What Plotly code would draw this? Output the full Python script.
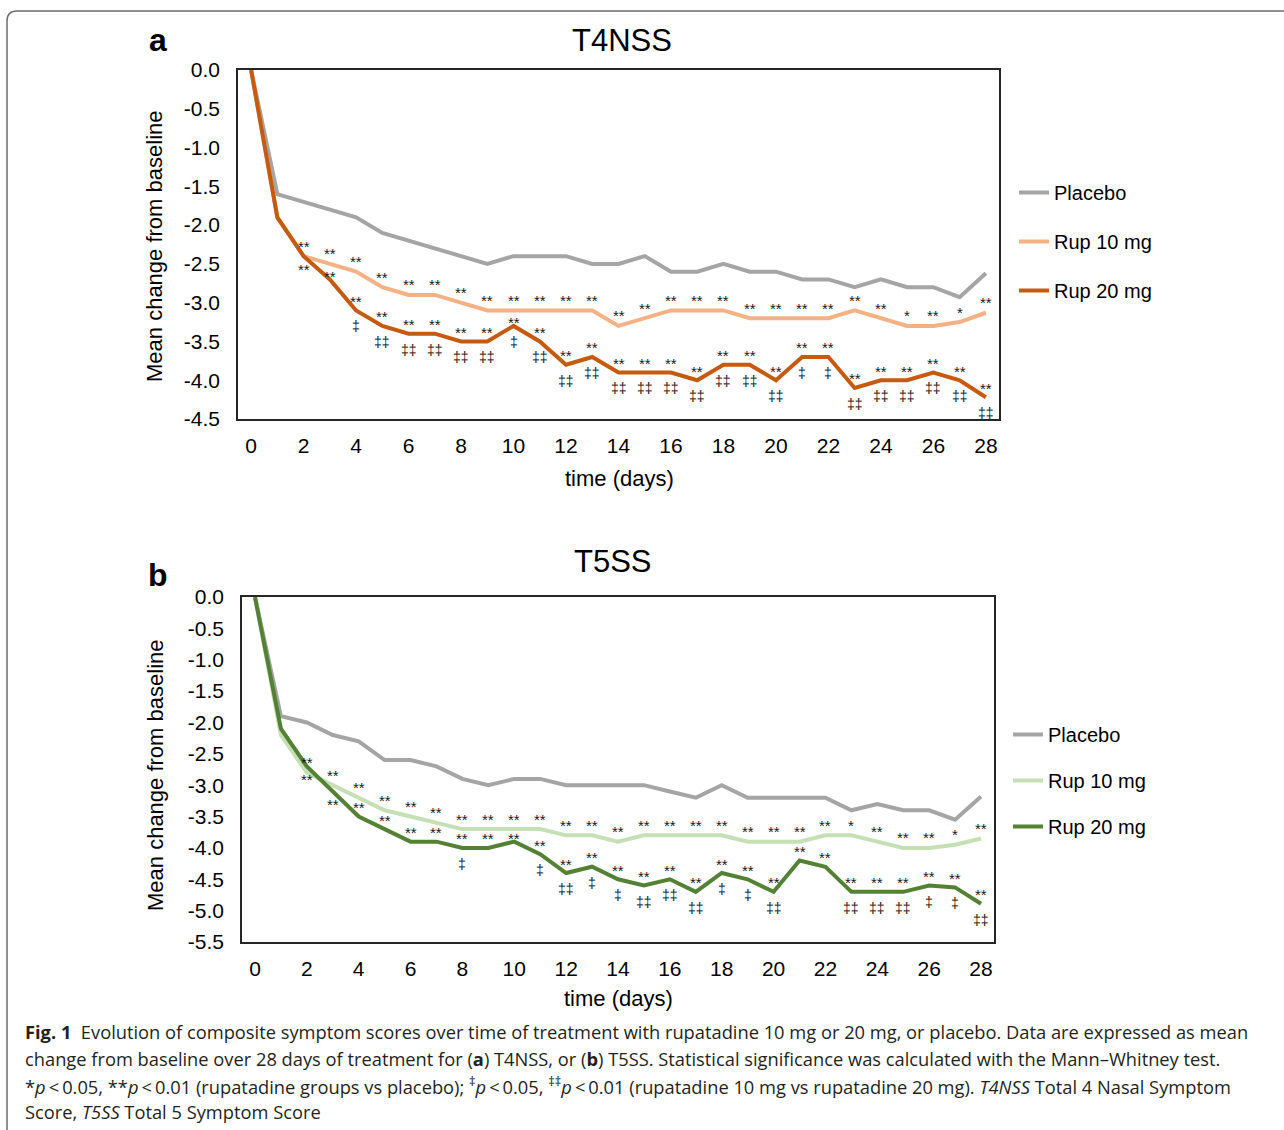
import plotly.graph_objects as go

days = list(range(29))
series_names = ["Placebo", "Rup 10 mg", "Rup 20 mg"]

# Panel a: T4NSS
a_placebo = [0, -1.6, -1.7, -1.8, -1.9, -2.1, -2.2, -2.3, -2.4, -2.5, -2.4, -2.4, -2.4, -2.5, -2.5,
             -2.4, -2.6, -2.6, -2.5, -2.6, -2.6, -2.7, -2.7, -2.8, -2.7, -2.8, -2.8, -2.93, -2.62]
a_rup10 = [0, -1.9, -2.4, -2.5, -2.6, -2.8, -2.9, -2.9, -3.0, -3.1, -3.1, -3.1, -3.1, -3.1, -3.3,
           -3.2, -3.1, -3.1, -3.1, -3.2, -3.2, -3.2, -3.2, -3.1, -3.2, -3.3, -3.3, -3.25, -3.13]
a_rup20 = [0, -1.9, -2.4, -2.7, -3.1, -3.3, -3.4, -3.4, -3.5, -3.5, -3.3, -3.5, -3.8, -3.7, -3.9,
           -3.9, -3.9, -4.0, -3.8, -3.8, -4.0, -3.7, -3.7, -4.1, -4.0, -4.0, -3.9, -4.0, -4.22]
a_sig_rup10 = ["", ""] + ["**"] * 23 + ["*", "**", "*", "**"]
a_sig_rup20 = ["", ""] + ["**"] * 27
a_sig_10vs20 = ["", "", "", "", "‡", "‡‡", "‡‡", "‡‡", "‡‡", "‡‡", "‡", "‡‡", "‡‡", "‡‡", "‡‡",
                "‡‡", "‡‡", "‡‡", "‡‡", "‡‡", "‡‡", "‡", "‡", "‡‡", "‡‡", "‡‡", "‡‡", "‡‡", "‡‡"]

# Panel b: T5SS
b_placebo = [0, -1.9, -2.0, -2.2, -2.3, -2.6, -2.6, -2.7, -2.9, -3.0, -2.9, -2.9, -3.0, -3.0, -3.0,
             -3.0, -3.1, -3.2, -3.0, -3.2, -3.2, -3.2, -3.2, -3.4, -3.3, -3.4, -3.4, -3.55, -3.18]
b_rup10 = [0, -2.2, -2.8, -3.0, -3.2, -3.4, -3.5, -3.6, -3.7, -3.7, -3.7, -3.7, -3.8, -3.8, -3.9,
           -3.8, -3.8, -3.8, -3.8, -3.9, -3.9, -3.9, -3.8, -3.8, -3.9, -4.0, -4.0, -3.95, -3.85]
b_rup20 = [0, -2.1, -2.7, -3.1, -3.5, -3.7, -3.9, -3.9, -4.0, -4.0, -3.9, -4.1, -4.4, -4.3, -4.5,
           -4.6, -4.5, -4.7, -4.4, -4.5, -4.7, -4.2, -4.3, -4.7, -4.7, -4.7, -4.6, -4.63, -4.89]
b_sig_rup10 = ["", ""] + ["**"] * 21 + ["*", "**", "**", "**", "*", "**"]
b_sig_rup20 = ["", ""] + ["**"] * 27
b_sig_10vs20 = ["", "", "", "", "", "", "", "", "‡", "", "", "‡", "‡‡", "‡", "‡",
                "‡‡", "‡‡", "‡‡", "‡", "‡", "‡‡", "", "", "‡‡", "‡‡", "‡‡", "‡", "‡", "‡‡"]

x_tickvals = list(range(0, 29, 2))
x_ticktext = [str(v) for v in x_tickvals]
a_ytickvals = [0, -0.5, -1.0, -1.5, -2.0, -2.5, -3.0, -3.5, -4.0, -4.5]
b_ytickvals = [0, -0.5, -1.0, -1.5, -2.0, -2.5, -3.0, -3.5, -4.0, -4.5, -5.0, -5.5]

caption_lines = [
    "<b>Fig. 1</b>  Evolution of composite symptom scores over time of treatment with rupatadine 10 mg or 20 mg, or placebo. Data are expressed as mean",
    "change from baseline over 28 days of treatment for (<b>a</b>) T4NSS, or (<b>b</b>) T5SS. Statistical significance was calculated with the Mann–Whitney test.",
    "*<i>p</i>\u2009&lt;\u20090.05, **<i>p</i>\u2009&lt;\u20090.01 (rupatadine groups vs placebo); <sup>‡</sup><i>p</i>\u2009&lt;\u20090.05, <sup>‡‡</sup><i>p</i>\u2009&lt;\u20090.01 (rupatadine 10 mg vs rupatadine 20 mg). <i>T4NSS</i> Total 4 Nasal Symptom",
    "Score, <i>T5SS</i> Total 5 Symptom Score",
]

W, H = 1284, 1130
FONT = "Liberation Sans, Arial, sans-serif"
GREY = "#A5A5A5"
colors_a = [GREY, "#F4B183", "#C55A11"]
colors_b = [GREY, "#C5E0B4", "#548235"]


def px(xp):
    return xp / W


def py(yp):
    return 1 - yp / H


fig = go.Figure()

panels = [
    dict(x="x", y="y", legend="legend", data=[a_placebo, a_rup10, a_rup20], colors=colors_a,
         sig10=a_sig_rup10, sig20=a_sig_rup20, sigdd=a_sig_10vs20),
    dict(x="x2", y="y2", legend="legend2", data=[b_placebo, b_rup10, b_rup20], colors=colors_b,
         sig10=b_sig_rup10, sig20=b_sig_rup20, sigdd=b_sig_10vs20),
]

MARK = dict(size=15, color="#1a1a1a", family=FONT)
DAG = dict(size=14, color="#1a1a1a", family=FONT)

annotations = []
for p in panels:
    for name, vals, col in zip(series_names, p["data"], p["colors"]):
        fig.add_trace(go.Scatter(
            x=days, y=vals, mode="lines", name=name,
            line=dict(color=col, width=4),
            xaxis=p["x"], yaxis=p["y"], legend=p["legend"], legendgroup=p["legend"] + name,
            hoverinfo="skip",
        ))
    r10 = p["data"][1]
    r20 = p["data"][2]
    for d in days:
        gap = abs(r20[d] - r10[d])
        t = p["sig10"][d]
        if t:
            annotations.append(dict(x=d, y=r10[d], xref=p["x"], yref=p["y"], text=t,
                                    showarrow=False, yshift=10, font=MARK))
        t = p["sig20"][d]
        if t:
            if gap < 0.15:
                shift = -13
            elif gap < 0.25:
                shift = 3
            else:
                shift = 9
            annotations.append(dict(x=d, y=r20[d], xref=p["x"], yref=p["y"], text=t,
                                    showarrow=False, yshift=shift, font=MARK))
        t = p["sigdd"][d]
        if t:
            annotations.append(dict(x=d, y=r20[d], xref=p["x"], yref=p["y"], text=t,
                                    showarrow=False, yshift=-16, font=DAG))

# panel labels and titles
text_items = [
    ("<b>a</b>", 158, 40, 32, 0),
    ("T4NSS", 622, 40, 31, 0),
    ("Mean change from baseline", 155, 246, 22, -90),
    ("time (days)", 619, 478, 22, 0),
    ("<b>b</b>", 158, 575, 32, 0),
    ("T5SS", 613, 561, 31, 0),
    ("Mean change from baseline", 155, 775, 22, -90),
    ("time (days)", 618, 998, 22, 0),
]
for txt, xx, yy, sz, ang in text_items:
    annotations.append(dict(x=px(xx), y=py(yy), xref="paper", yref="paper", text=txt, showarrow=False,
                            xanchor="center", yanchor="middle", textangle=ang,
                            font=dict(size=sz, color="#000000", family=FONT)))

cap_y = [1031, 1058, 1085, 1111]
for line, yy in zip(caption_lines, cap_y):
    annotations.append(dict(x=px(23), y=py(yy), xref="paper", yref="paper", text=line, showarrow=False,
                            xanchor="left", yanchor="middle",
                            font=dict(size=18.3, color="#231F20", family="Open Sans, sans-serif")))

axis_common = dict(showgrid=False, zeroline=False, showline=True, mirror=True, linecolor="#262626",
                   linewidth=1.5, ticks="", automargin=False,
                   tickfont=dict(size=21, color="#000000", family=FONT))

fig.update_layout(
    width=W, height=H, margin=dict(l=0, r=0, t=0, b=0, pad=0, autoexpand=False),
    paper_bgcolor="white", plot_bgcolor="white",
    showlegend=True,
    xaxis=dict(domain=[px(238), px(999)], range=[-0.5, 28.5], tickvals=x_tickvals, ticktext=x_ticktext,
               anchor="y", ticklabelstandoff=7, **axis_common),
    yaxis=dict(domain=[py(419), py(70)], range=[-4.5, 0], tickvals=a_ytickvals,
               ticktext=[f"{v:.1f}" for v in a_ytickvals], anchor="x", ticklabelstandoff=12, **axis_common),
    xaxis2=dict(domain=[px(242), px(994)], range=[-0.5, 28.5], tickvals=x_tickvals, ticktext=x_ticktext,
                anchor="y2", ticklabelstandoff=7, **axis_common),
    yaxis2=dict(domain=[py(942), py(597)], range=[-5.5, 0], tickvals=b_ytickvals,
                ticktext=[f"{v:.1f}" for v in b_ytickvals], anchor="x2", ticklabelstandoff=12, **axis_common),
    legend=dict(x=px(1014), y=py(173), xanchor="left", yanchor="top", tracegroupgap=20,
                font=dict(size=20, color="#000000", family=FONT), bgcolor="rgba(0,0,0,0)"),
    legend2=dict(x=px(1008), y=py(715), xanchor="left", yanchor="top", tracegroupgap=17,
                 font=dict(size=20, color="#000000", family=FONT), bgcolor="rgba(0,0,0,0)"),
    annotations=annotations,
    shapes=[dict(type="path", xref="paper", yref="paper",
                 path=f"M 1,{py(11)} L {px(17)},{py(11)} Q {px(7)},{py(11)} {px(7)},{py(21)} L {px(7)},0",
                 line=dict(color="#6e6e6e", width=1.5))],
)

fig.write_html("out.html")
